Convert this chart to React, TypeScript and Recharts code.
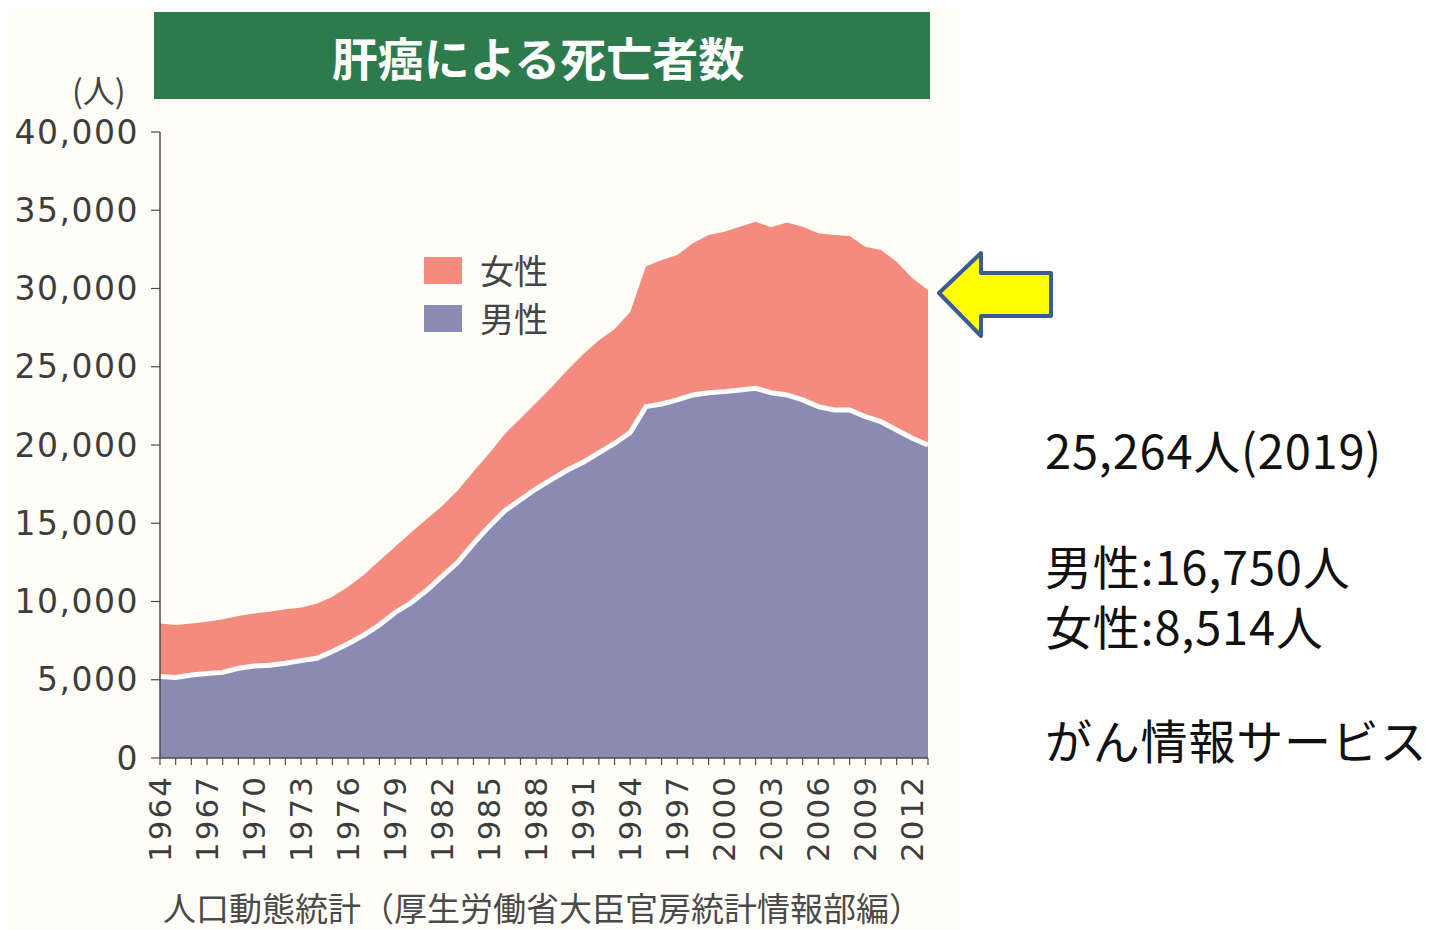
import * as React from "react";
import { Area, ComposedChart, Line, XAxis, YAxis } from "recharts";

// 肝癌による死亡者数 (1964–2013), stacked male / female areas.

const YEARS = [
  1964, 1965, 1966, 1967, 1968, 1969, 1970, 1971, 1972, 1973,
  1974, 1975, 1976, 1977, 1978, 1979, 1980, 1981, 1982, 1983,
  1984, 1985, 1986, 1987, 1988, 1989, 1990, 1991, 1992, 1993,
  1994, 1995, 1996, 1997, 1998, 1999, 2000, 2001, 2002, 2003,
  2004, 2005, 2006, 2007, 2008, 2009, 2010, 2011, 2012, 2013,
];

const MALE = [
  5200, 5150, 5300, 5400, 5470, 5730, 5880, 5920, 6050, 6220,
  6370, 6800, 7300, 7850, 8500, 9300, 9900, 10700, 11600, 12500,
  13700, 14800, 15800, 16500, 17200, 17800, 18400, 18900, 19500, 20100,
  20800, 22450, 22620, 22880, 23200, 23340, 23410, 23510, 23620, 23340,
  23200, 22880, 22450, 22240, 22240, 21810, 21490, 20960, 20430, 20000,
];

const FEMALE = [
  3400, 3350, 3300, 3300, 3390, 3340, 3360, 3430, 3450, 3390,
  3480, 3500, 3650, 3850, 4100, 4200, 4500, 4550, 4500, 4600,
  4600, 4650, 4900, 5200, 5500, 5900, 6400, 6900, 7200, 7300,
  7700, 8950, 9200, 9260, 9690, 10080, 10220, 10440, 10650, 10570,
  11010, 11070, 11080, 11180, 11110, 10860, 10970, 10750, 10220, 9900,
];

const Y_TICKS = [0, 5000, 10000, 15000, 20000, 25000, 30000, 35000, 40000];
const X_LABEL_YEARS = [
  1964, 1967, 1970, 1973, 1976, 1979, 1982, 1985, 1988, 1991, 1994, 1997,
  2000, 2003, 2006, 2009, 2012,
];

const LEGEND_ITEMS = [
  { label: "女性", color: "#f58b7e" },
  { label: "男性", color: "#8b8ab3" },
];

const NOTE_LINES = ["25,264人(2019)", "男性:16,750人", "女性:8,514人", "がん情報サービス"];
const NOTE_TOPS = [424, 540, 600, 714];

const TITLE = "肝癌による死亡者数";
const SOURCE = "人口動態統計（厚生労働省大臣官房統計情報部編）";

const AXIS_COLOR = "#4a4a4a";
const LABEL_FONT = "'DejaVu Sans', sans-serif";
const JP_FONT = "'Noto Sans CJK JP', sans-serif";

const rows = YEARS.map((year, i) => ({ year, male: MALE[i], female: FEMALE[i] }));

function YTick(props: any) {
  const { x, y, payload } = props;
  return (
    <text
      x={x}
      y={y}
      textAnchor="end"
      dominantBaseline="central"
      fill="#3d3d3d"
      fontFamily={LABEL_FONT}
      fontSize={33}
      letterSpacing={1.5}
    >
      {Number(payload.value).toLocaleString("en-US")}
    </text>
  );
}

function XTick(props: any) {
  const { x, y, payload } = props;
  if (!X_LABEL_YEARS.includes(payload.value)) return null;
  return (
    <text
      x={x}
      y={y}
      transform={`rotate(-90, ${x}, ${y})`}
      textAnchor="end"
      dominantBaseline="central"
      fill="#3d3d3d"
      fontFamily={LABEL_FONT}
      fontSize={31}
      letterSpacing={2}
    >
      {payload.value}
    </text>
  );
}

export default function App() {
  return (
    <div
      style={{
        position: "relative",
        width: 1432,
        height: 930,
        margin: "-8px 0 0 -8px",
        overflow: "hidden",
        background: "#ffffff",
      }}
    >
      <div
        style={{
          position: "absolute",
          left: 0,
          top: 0,
          width: 960,
          height: 930,
          background: "#fefdf8",
        }}
      />
      <div
        style={{
          position: "absolute",
          left: 0,
          top: 0,
          width: 1290,
          height: 8,
          background: "linear-gradient(#ececec, rgba(255,255,255,0))",
        }}
      />

      {/* title banner */}
      <div
        style={{
          position: "absolute",
          left: 154,
          top: 12,
          width: 776,
          height: 87,
          background: "#2d7b4d",
          color: "#ffffff",
          fontFamily: JP_FONT,
          fontWeight: 700,
          fontSize: 46,
          display: "flex",
          alignItems: "center",
          justifyContent: "center",
          paddingRight: 8,
          boxSizing: "border-box",
        }}
      >
        {TITLE}
      </div>

      <div
        style={{
          position: "absolute",
          left: 72,
          top: 69,
          fontFamily: JP_FONT,
          fontSize: 32,
          color: "#444",
          lineHeight: "40px",
        }}
      >
        (人)
      </div>

      <div style={{ position: "absolute", left: 0, top: 0 }}>
        <ComposedChart
          width={960}
          height={930}
          data={rows}
          margin={{ top: 132, right: 32, bottom: 60, left: 0 }}
        >
          <XAxis
            dataKey="year"
            type="number"
            domain={[1964, 2013]}
            ticks={YEARS}
            interval={0}
            height={112}
            tick={<XTick />}
            tickSize={7}
            tickMargin={10}
            axisLine={{ stroke: AXIS_COLOR, strokeWidth: 1.5 }}
            tickLine={{ stroke: AXIS_COLOR, strokeWidth: 1.2 }}
          />
          <YAxis
            domain={[0, 40000]}
            ticks={Y_TICKS}
            width={160}
            tick={<YTick />}
            tickSize={9}
            tickMargin={12}
            axisLine={{ stroke: AXIS_COLOR, strokeWidth: 1.5 }}
            tickLine={{ stroke: AXIS_COLOR, strokeWidth: 1.2 }}
          />
          <Area
            type="linear"
            dataKey="male"
            stackId="a"
            fill="#8b8ab3"
            fillOpacity={1}
            stroke="none"
            isAnimationActive={false}
          />
          <Area
            type="linear"
            dataKey="female"
            stackId="a"
            fill="#f58b7e"
            fillOpacity={1}
            stroke="none"
            isAnimationActive={false}
          />
          <Line
            type="linear"
            dataKey="male"
            stroke="#ffffff"
            strokeWidth={5}
            dot={false}
            isAnimationActive={false}
          />
        </ComposedChart>
      </div>

      {/* legend */}
      <div
        style={{
          position: "absolute",
          left: 424,
          top: 250,
          display: "flex",
          flexDirection: "column",
          gap: 8,
        }}
      >
        {LEGEND_ITEMS.map((item) => (
          <div key={item.label} style={{ display: "flex", alignItems: "center", height: 40 }}>
            <div style={{ width: 38, height: 27, background: item.color, marginRight: 18 }} />
            <span style={{ fontFamily: JP_FONT, fontSize: 34, color: "#444", lineHeight: "40px" }}>
              {item.label}
            </span>
          </div>
        ))}
      </div>

      {/* source note */}
      <div
        style={{
          position: "absolute",
          left: 163,
          top: 889,
          fontFamily: JP_FONT,
          fontSize: 33,
          color: "#4a4a4a",
          lineHeight: "36px",
          whiteSpace: "nowrap",
        }}
      >
        {SOURCE}
      </div>

      {/* arrow */}
      <svg width={130} height={100} style={{ position: "absolute", left: 930, top: 244 }}>
        <polygon
          points="9,49 51,9 51,29 121,29 121,72 51,72 51,92"
          fill="#ffff00"
          stroke="#3a5d91"
          strokeWidth={4}
          strokeLinejoin="round"
        />
      </svg>

      {/* side note */}
      {NOTE_LINES.map((line, i) => (
        <div
          key={line}
          style={{
            position: "absolute",
            left: 1045,
            top: NOTE_TOPS[i],
            fontFamily: JP_FONT,
            fontSize: 47,
            lineHeight: "50px",
            letterSpacing: 0.8,
            color: "#111",
            whiteSpace: "nowrap",
          }}
        >
          {line}
        </div>
      ))}
    </div>
  );
}
